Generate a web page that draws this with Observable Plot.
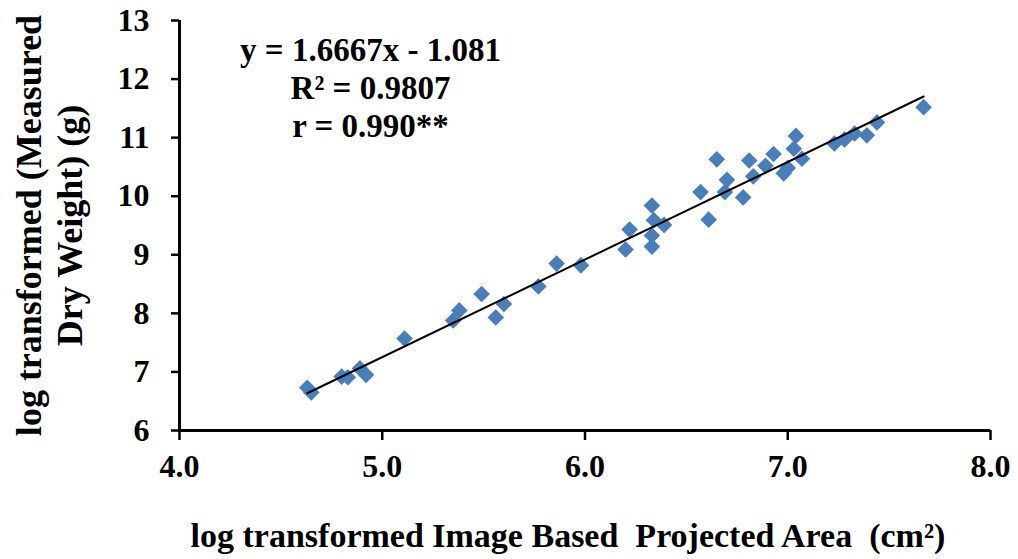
<!DOCTYPE html>
<html>
<head>
<meta charset="utf-8">
<script src="https://cdn.jsdelivr.net/npm/d3@7"></script>
<script src="https://cdn.jsdelivr.net/npm/@observablehq/plot@0.6"></script>
<style>
  body { margin: 0; background: #fff; }
</style>
</head>
<body>
<div id="chart"></div>
<script>
// log-transformed image-based projected area (cm²) for each sample
const areaLog = [
  4.63, 4.65, 4.80, 4.83, 4.89, 4.92, 5.11, 5.35, 5.38, 5.49, 5.56, 5.60, 5.77,
  5.86, 5.98, 6.20, 6.22, 6.33, 6.34, 6.39, 6.33, 6.33,
  6.57, 6.61, 6.65, 6.69, 6.70, 6.78, 6.81, 6.83, 6.89, 6.93, 6.98, 7.00, 7.03, 7.04, 7.07,
  7.23, 7.28, 7.33, 7.39, 7.44, 7.67
];
// log-transformed measured dry weight (g), same order
const weightLog = [
  6.73, 6.65, 6.92, 6.91, 7.06, 6.95, 7.57, 7.88, 8.05, 8.33, 7.93, 8.16, 8.46,
  8.85, 8.82, 9.09, 9.43, 9.84, 9.59, 9.51, 9.33, 9.14,
  10.07, 9.60, 10.63, 10.07, 10.28, 9.98, 10.61, 10.34, 10.52, 10.72, 10.39, 10.48, 10.81, 11.03, 10.64,
  10.90, 10.97, 11.07, 11.04, 11.26, 11.52
];

const xTicks = [4, 5, 6, 7, 8];
const yTicks = [6, 7, 8, 9, 10, 11, 12, 13];

// fitted regression
const slope = 1.6667;
const intercept = -1.081;
const statLines = ["y = 1.6667x - 1.081", "R² = 0.9807", "r = 0.990**"];

const xTitle = "log transformed Image Based  Projected Area  (cm²)";
const yTitle = ["log transformed (Measured", "Dry Weight) (g)"];

const samples = areaLog.map((a, i) => ({area: a, weight: weightLog[i]}));
const fitRange = d3.extent(areaLog);

const chart = Plot.plot({
  width: 1018,
  height: 559,
  marginLeft: 179,
  marginRight: 28,
  marginTop: 20,
  marginBottom: 129,
  x: {domain: [4, 8]},
  y: {domain: [6, 13]},
  style: {fontFamily: "'Liberation Serif', 'Times New Roman', serif", fontWeight: "bold", color: "#000", background: "#fff"},
  marks: [
    Plot.axisY({ticks: yTicks, tickFormat: d3.format("d"), tickSize: 8, tickPadding: 22, strokeWidth: 2.5, fontSize: 32, label: null}),
    Plot.axisX({ticks: xTicks, tickFormat: d3.format(".1f"), tickSize: 10, tickPadding: 14, strokeWidth: 2.5, fontSize: 32, label: null}),
    Plot.ruleX([4], {stroke: "#000", strokeWidth: 3}),
    Plot.ruleY([6], {stroke: "#000", strokeWidth: 3}),
    Plot.dot(samples, {x: "area", y: "weight", symbol: "diamond2", r: 7.5, fill: "#4a7ebb", stroke: "none"}),
    Plot.line(fitRange, {x: d => d, y: d => slope * d + intercept, stroke: "#000", strokeWidth: 2}),
    Plot.text([statLines.join("\n")], {
      frameAnchor: "top-left", dx: 191, dy: 13, lineAnchor: "top", lineHeight: 1.16,
      textAnchor: "middle", fontSize: 33, fontWeight: "bold", fill: "#000"
    }),
    Plot.text([xTitle], {
      frameAnchor: "bottom", dx: -17, dy: 116, fontSize: 34, fontWeight: "bold", fill: "#000"
    }),
    Plot.text([yTitle.join("\n")], {
      frameAnchor: "left", dx: -131, rotate: -90, lineHeight: 1.12, textAnchor: "middle",
      fontSize: 36, fontWeight: "bold", fill: "#000"
    })
  ]
});

document.getElementById("chart").appendChild(chart);
</script>
</body>
</html>
